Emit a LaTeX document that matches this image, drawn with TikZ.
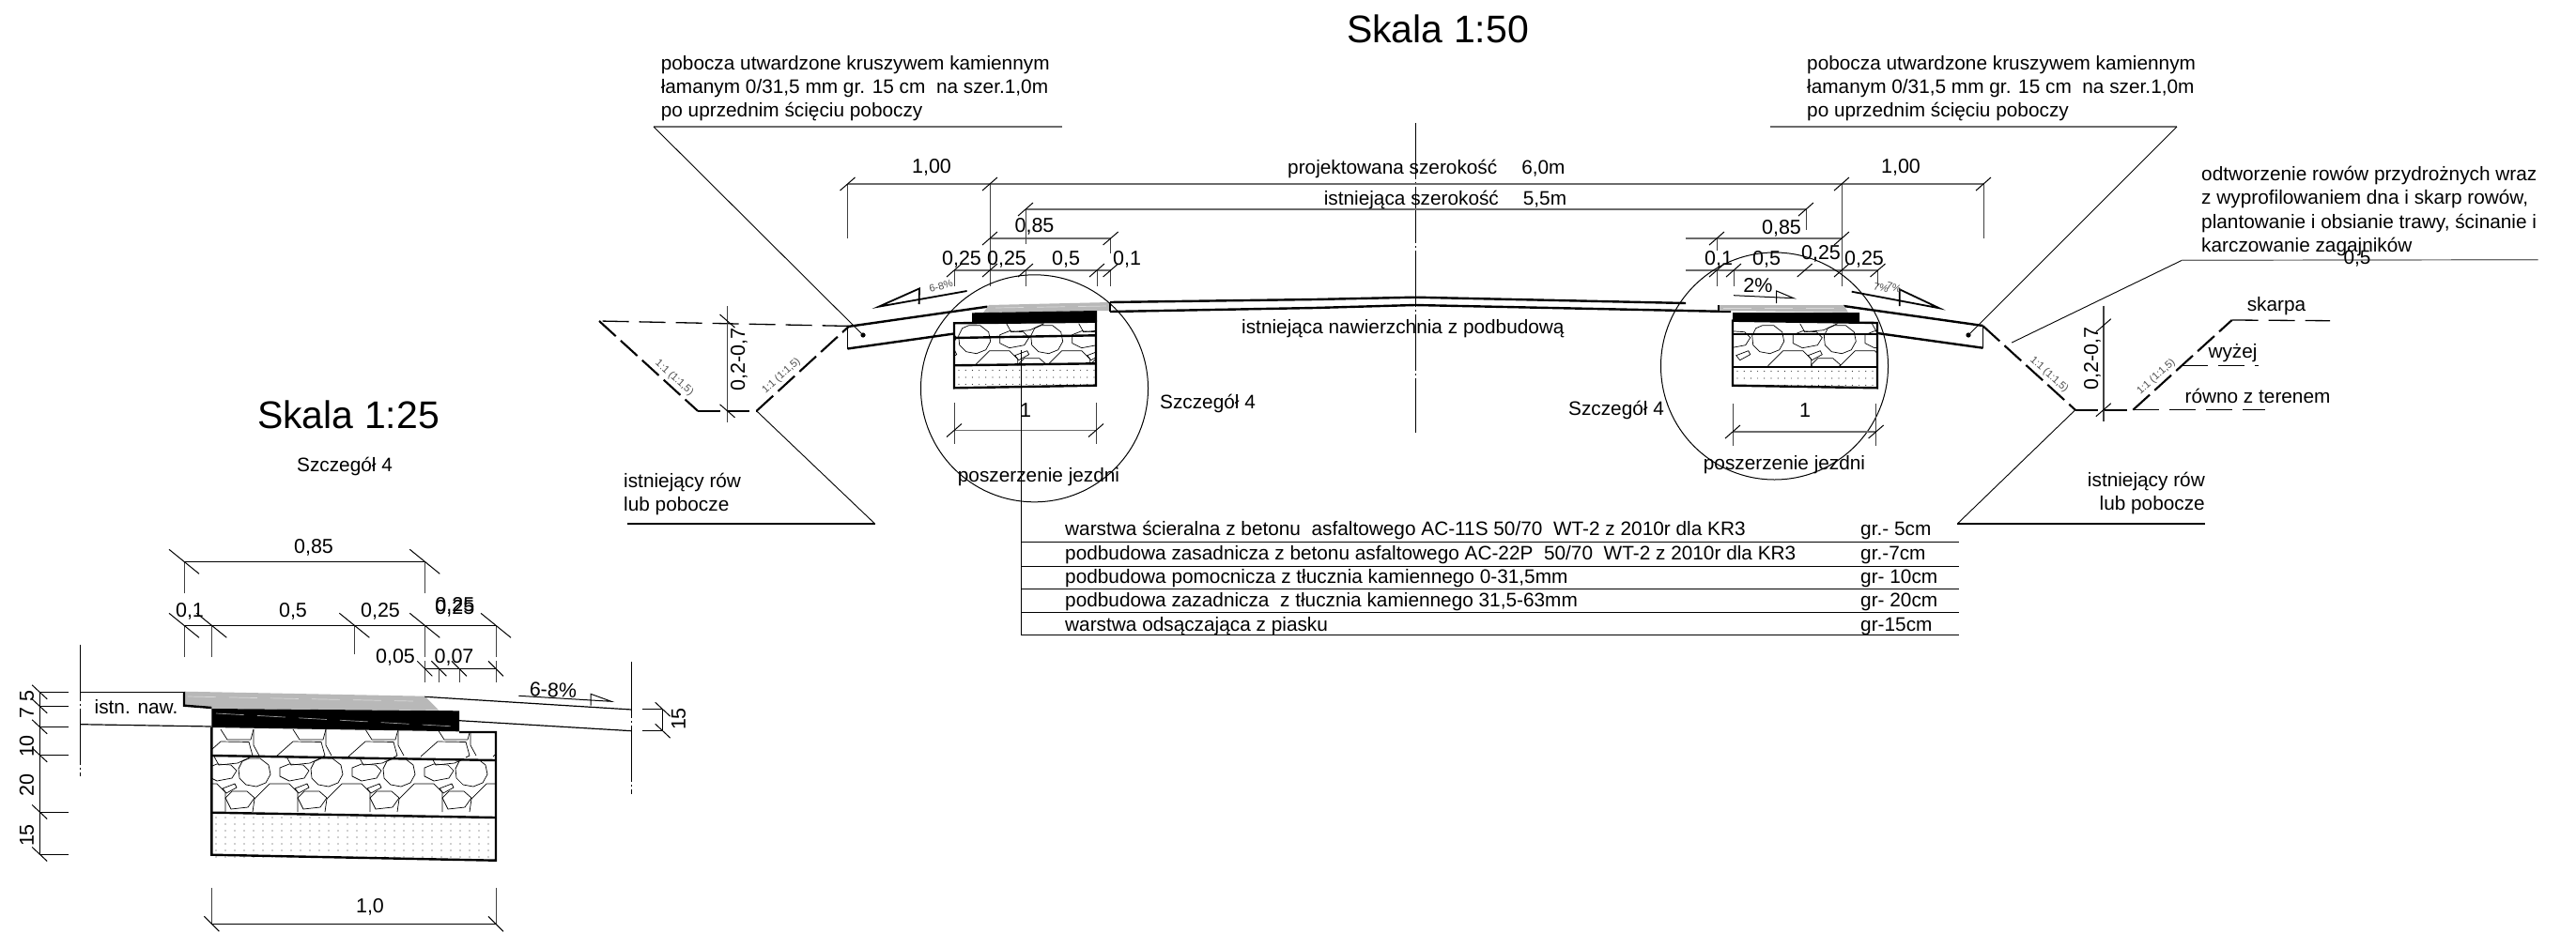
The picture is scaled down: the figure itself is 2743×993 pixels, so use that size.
\documentclass[tikz,border=0pt]{standalone}
\usepackage{fontspec}
\setmainfont{Liberation Sans}
\definecolor{dimgr}{gray}{0.42}
\definecolor{asph}{gray}{0.72}
\tikzset{
 lab/.style={font=\fontsize{20.8}{25.3}\selectfont,inner sep=0pt,anchor=west,align=left},
 cen/.style={font=\fontsize{20.8}{25.3}\selectfont,inner sep=0pt,anchor=center},
 dimt/.style={font=\fontsize{21.5}{26}\selectfont,inner sep=0pt,anchor=center},
 title/.style={font=\fontsize{41}{46}\selectfont,inner sep=0pt,anchor=center},
 tiny/.style={font=\fontsize{11}{13}\selectfont,inner sep=0pt,anchor=center,text=black!70},
 dimln/.style={draw=dimgr,line width=1.7pt},
 ext/.style={draw=black!75,line width=1pt},
 tk/.style={draw=black,line width=1pt},
 thin/.style={draw=black,line width=1pt},
 lead/.style={draw=black,line width=.9pt},
 leadh/.style={draw=dimgr,line width=1.6pt},
 roadl/.style={draw=black,line width=2.4pt},
 boxl/.style={draw=black,line width=2.4pt},
 ditch/.style={draw=black,line width=2.1pt,dash pattern=on 24pt off 7pt},
 ditcht/.style={draw=black,line width=1.3pt,dash pattern=on 28pt off 11pt},
 axis/.style={draw=black,line width=.9pt,dash pattern=on 60pt off 3pt on 2pt off 3pt},
 stone/.style={draw=black,line width=.7pt},
 streak/.style={draw=white!85!black,line width=.7pt,dash pattern=on 30pt off 14pt},
}
\newcommand\mtick[2]{\draw[tk] (#1-8,#2+7) -- (#1+8,#2-7);}
\newcommand\btick[2]{\draw[tk] (#1-8,#2-7) -- (#1+8,#2+7);}
\newcommand\dtick[2]{\draw[tk] (#1-16,#2-13) -- (#1+16,#2+13);}
\newcommand\stick[2]{\draw[tk] (#1-8,#2-8) -- (#1+8,#2+8);}
\newcommand\vtick[2]{\draw[tk] (#1-8,#2-7.5) -- (#1+8,#2+7.5);}
% stone tile A: origin at the octagon centre
\newcommand\tileA[2]{\begin{scope}[shift={(#1,#2)}]
 \draw[stone] (-6,-15)--(6,-15)--(15,-8)--(17,2)--(12,11)--(2,15)--(-9,13)--(-16,6)--(-17,-4)--(-13,-12)--cycle;
 \draw[stone] (-50,-5)--(-40,-9)--(-25,-8)--(-19,-2)--(-24,6)--(-40,9)--(-50,4)--cycle;
 \draw[stone] (0,28)--(16,12)--(37,12)--(46,21)--(46,42);
 \draw[stone] (0,28)--(-2,42);
 \draw[stone] (46,27)--(53,20)--(69,20)--(77,27)--(70,37)--(52,39)--cycle;
 \draw[stone] (-34,17)--(-21,12)--(-19,16)--(-30,22)--cycle;
 \draw[stone] (34,-17)--(39,-8)--(59,-10)--(74,-17);
\end{scope}}
% stone tile B: upper layer of the detail
\newcommand\tileB[2]{\begin{scope}[shift={(#1,#2)}]
 \draw[stone] (-9,29)--(9,13)--(39,13.5)--(43,28)--(39,30);
 \draw[stone] (9,0)--(16,11)--(41,11)--(44,0);
 \draw[stone] (44,0)--(44,17)--(50,28);
\end{scope}}
\begin{document}
\begin{tikzpicture}[x=1pt,y=-1pt]
\useasboundingbox (0,0) rectangle (2743,993);
\fill[white] (0,0) rectangle (2743,993);

%% ---------- titles
\node[title] (t50) at (1531,31) {Skala 1:50};
\node[title] (t25) at (371,442) {Skala 1:25};
\node[cen] (sz0) at (367,497) {Szczegół 4};

%% ---------- centre axis
\draw[axis] (1507,131) -- (1507,461);

%% ---------- left notes
\node[lab] (nl) at (703.6,94) {pobocza utwardzone kruszywem kamiennym\\łamanym 0/31,5 mm gr. 15 cm~ na szer.1,0m\\po uprzednim ścięciu poboczy};
\draw[leadh] (1131,135) -- (696,135);
\draw[lead] (696,135) -- (919,357);
\fill (919,357) circle (2.6);
\node[lab] (nr) at (1924,94) {pobocza utwardzone kruszywem kamiennym\\łamanym 0/31,5 mm gr. 15 cm~ na szer.1,0m\\po uprzednim ścięciu poboczy};
\draw[leadh] (1885,135) -- (2318,135);
\draw[lead] (2318,135) -- (2096,357);
\fill (2096,357) circle (2.6);

%% ---------- dimensions, main section
\draw[dimln] (902.5,196) -- (2112,196);
\draw[dimln] (1092,223) -- (1923,223);
\draw[dimln] (1054,254) -- (1182.6,254);
\draw[dimln] (1016,288) -- (1182.6,288);
\draw[dimln] (1795,254) -- (1961,254);
\draw[dimln] (1795,288) -- (1999.5,288);
\draw[ext] (902.5,196) -- (902.5,254);
\draw[ext] (1054,196) -- (1054,305);
\draw[ext] (1092,223) -- (1092,260) (1092,288) -- (1092,305);
\draw[ext] (1016,288) -- (1016,305);
\draw[ext] (1182.6,254) -- (1182.6,270) (1182.6,288) -- (1182.6,305);
\draw[ext] (1168,288) -- (1168,305);
\draw[ext] (2112,196) -- (2112,254);
\draw[ext] (1961,196) -- (1961,305);
\draw[ext] (1923,223) -- (1923,245);
\draw[ext] (1828,254) -- (1828,267) (1828,288) -- (1828,305);
\draw[ext] (1846,288) -- (1846,305);
\draw[ext] (1999.5,288) -- (1999.5,305);
\foreach \a/\b in {902.5/196,1054/196,2112/196,1961/196,1092/223,1923/223,1054/254,1182.6/254,1828/254,1961/254,1016/288,1054/288,1092/288,1168/288,1182.6/288,1828/288,1846/288,1921.7/288,1961/288,1999.5/288}{\mtick{\a}{\b}}

\node[dimt] (d100l) at (992,178) {1,00};
\node[dimt] (d100r) at (2024,178) {1,00};
\node[dimt] (d85l) at (1101.5,241) {0,85};
\node[dimt] (d25a) at (1024,276) {0,25};
\node[dimt] (d25b) at (1072,276) {0,25};
\node[dimt] (d5a) at (1135,276) {0,5};
\node[dimt] (d1a) at (1200,276) {0,1};
\node[dimt] (d85r) at (1897,243) {0,85};
\node[dimt] (d1b) at (1830,276) {0,1};
\node[dimt] (d5b) at (1881,276) {0,5};
\node[dimt] (d25c) at (1939,270) {0,25};
\node[dimt] (d25d) at (1985,276) {0,25};
\node[lab] (pw) at (1371,180) {projektowana szerokość\hspace{26pt}6,0m};
\node[lab] (iw) at (1409.6,213) {istniejąca szerokość\hspace{26pt}5,5m};
\node[lab] (in) at (1322,350) {istniejąca nawierzchnia z podbudową};

%% ---------- road surface
\draw[roadl] (1182,322) -- (1400,319) -- (1507,316.7) -- (1795,323);
\draw[roadl] (1182,332) -- (1400,328) -- (1507,325) -- (1843,332);
\draw[roadl] (902.5,348) -- (1051.5,326.7);
\draw[roadl] (902.5,371.5) -- (1016,355.5);
\draw[thin] (902.5,348) -- (902.5,371.5);
\draw[roadl] (1963,326) -- (2111.5,347);
\draw[roadl] (1999,355) -- (2111.5,370.7);
\draw[thin] (2111.5,347) -- (2111.5,370.7);

%% left widening
\begin{scope}
 \clip (1016,344.3) -- (1167,342.7) -- (1167,388) -- (1016,390) -- cycle;
 \foreach \q in {1037.7,1114.7,1191.7}{\tileA{\q}{361.7}}
\end{scope}
\foreach \q in {0,...,2}{\foreach \r in {0,...,20}{\fill[black!80] (1021+\r*7.2,394.5+\q*7.5) circle (.6);}}
\fill[asph] (1053,325) -- (1182,322) -- (1182,331) -- (1047,333) -- cycle;
\draw[streak] (1060,328) -- (1180,326);
\fill[black] (1035,333.3) -- (1168,331) -- (1168,342.5) -- (1060,345) -- (1035,344) -- cycle;
\draw[boxl] (1016,344.3) -- (1167,342.7) -- (1167,410.7) -- (1016,413.3) -- cycle;
\draw[boxl] (1016,360) -- (1167,357.3);
\draw[boxl] (1016,389.3) -- (1167,387.3);
\draw[thin,line width=2pt] (1182,322) -- (1182,332);

%% right widening
\begin{scope}
 \clip (1845,341.7) -- (1999,344) -- (1999,390.7) -- (1845,390.7) -- cycle;
 \foreach \q in {1882.7,1959.3,2036}{\tileA{\q}{361.7}}
\end{scope}
\foreach \q in {0,...,2}{\foreach \r in {0,...,20}{\fill[black!80] (1850+\r*7.2,395.5+\q*7.5) circle (.6);}}
\fill[asph] (1830,325) -- (1963,325) -- (1968,332.7) -- (1830,331) -- cycle;
\draw[streak] (1835,328) -- (1958,328);
\fill[black] (1845,333) -- (1980,333) -- (1980,343) -- (1845,342) -- cycle;
\draw[boxl] (1845,341.7) -- (1999,344) -- (1999,413.3) -- (1845,410.7) -- cycle;
\draw[boxl] (1845,356) -- (1999,356);
\draw[boxl] (1845,390.7) -- (1999,390.7);
\draw[thin,line width=2pt] (1830,325) -- (1830,332);

%% slope markers
\draw[thin,line width=1.8pt] (1029.6,310) -- (935.7,326.7) -- (979,307.4) -- (978.6,324);
\node[tiny,rotate=15] (sl68) at (1002,305) {6-8\%};
\draw[thin] (1846,314.7) -- (1910,317.7) -- (1891.7,310) -- (1891.7,323);
\node[dimt] (sl2) at (1872,304) {2\%};
\draw[thin,line width=1.8pt] (1971.7,310.7) -- (2065,328.3) -- (2022.7,308.3) -- (2022.7,326);
\node[tiny,rotate=-15] (sl7a) at (2003,306.7) {7\%};
\node[tiny,rotate=-15] (sl7b) at (2016.7,306) {7\%};

%% widening circles and widths
\draw[thin] (1101.5,413.8) circle (121);
\draw[thin] (1889.5,390) circle (121);
\draw[dimln] (1016,458.5) -- (1167,458.5);
\draw[dimln] (1845,460) -- (1997.6,460);
\draw[ext] (1016,429) -- (1016,473);
\draw[ext] (1167,429) -- (1167,473);
\draw[ext] (1845,430) -- (1845,475);
\draw[ext] (1997.6,430) -- (1997.6,475);
\foreach \a/\b in {1016/458.5,1167/458.5,1845/460,1997.6/460}{\mtick{\a}{\b}}
\node[dimt] (w1l) at (1092,437) {1};
\node[dimt] (w1r) at (1922,437) {1};
\node[cen] (szl) at (1286,430) {Szczegół 4};
\node[cen] (szr) at (1721,437) {Szczegół 4};
\node[cen] (pzl) at (1106,508) {poszerzenie jezdni};
\node[cen] (pzr) at (1900,495) {poszerzenie jezdni};

%% ---------- left ditch
\draw[ditcht] (903.6,347.4) -- (638,342);
\draw[ditch] (638,342) -- (743,437.8);
\draw[ditch] (743,437.8) -- (805.6,437.8);
\draw[ditch] (805.6,437.8) -- (903.6,348);
\draw[ext] (774.5,326) -- (774.5,450);
\btick{774.5}{342}\btick{774.5}{437.8}
\node[dimt,rotate=90] (h1) at (787,383) {0,2-0,7};
\node[tiny,rotate=-42] (s1) at (718,402.6) {1:1 (1:1,5)};
\node[tiny,rotate=42] (s2) at (832,400.7) {1:1 (1:1,5)};
\draw[lead] (805.6,437.8) -- (931.6,558);
\draw[thin,line width=1.3pt] (931.6,558) -- (668,558);
\node[lab] (rl) at (664,526.5) {istniejący rów\\lub pobocze};

%% ---------- right ditch
\draw[ditch] (2111.5,347.3) -- (2209.8,436.7);
\draw[ditch] (2209.8,436.7) -- (2271.3,436.7);
\draw[ditch] (2271.3,436.7) -- (2376.6,341);
\draw[ditcht] (2376.6,341) -- (2481,341.7);
\draw[ditcht] (2323.4,389.3) -- (2404.5,389.3);
\draw[ditcht] (2271.3,436.7) -- (2411.5,436.7);
\draw[ext,line width=1.4pt] (2239.8,325.7) -- (2239.8,449);
\mtick{2239.8}{346.7}\mtick{2239.8}{436.7}
\node[dimt,rotate=90] (h2) at (2228,382) {0,2-0,7};
\node[tiny,rotate=-42] (s3) at (2182,399.3) {1:1 (1:1,5)};
\node[tiny,rotate=42] (s4) at (2296,401.7) {1:1 (1:1,5)};
\draw[lead] (2209.8,436.7) -- (2084.3,558);
\draw[thin,line width=1.3pt] (2084.3,558) -- (2348,558);
\node[lab,align=right,anchor=east] (rr) at (2348,525.5) {istniejący rów\\lub pobocze};
\draw[lead] (2142.2,365) -- (2323.4,277.3);
\draw[leadh,line width=1.2pt] (2323.4,277.3) -- (2702.5,276.7);
\node[lab] (od) at (2344,225) {odtworzenie rowów przydrożnych wraz\\z wyprofilowaniem dna i skarp rowów,\\plantowanie i obsianie trawy, ścinanie i\\karczowanie zagajników};
\node[cen] (d05) at (2510,276) {0,5};
\node[cen] (sk) at (2424,326) {skarpa};
\node[cen] (wy) at (2377.5,376) {wyżej};
\node[cen] (rt) at (2404,422) {równo z terenem};

%% ---------- layer table
\draw[thin] (1087,373) -- (1087,676.7);
\foreach \yy in {577.7,603.3,627.3,652.3,676.7}{\draw[thin,line width=1.2pt] (1087,\yy) -- (2086,\yy);}
\node[lab] (l1) at (1134,565) {warstwa ścieralna z betonu~ asfaltowego AC-11S 50/70~ WT-2 z 2010r dla KR3};
\node[lab] (l2) at (1134,591) {podbudowa zasadnicza z betonu asfaltowego AC-22P~ 50/70~ WT-2 z 2010r dla KR3};
\node[lab] (l3) at (1134,616) {podbudowa pomocnicza z tłucznia kamiennego 0-31,5mm};
\node[lab] (l4) at (1134,641) {podbudowa zazadnicza~ z tłucznia kamiennego 31,5-63mm};
\node[lab] (l5) at (1134,667) {warstwa odsączająca z piasku};
\node[lab] (g1) at (1981,565) {gr.- 5cm};
\node[lab] (g2) at (1981,591) {gr.-7cm};
\node[lab] (g3) at (1981,616) {gr- 10cm};
\node[lab] (g4) at (1981,641) {gr- 20cm};
\node[lab] (g5) at (1981,667) {gr-15cm};

%% ---------- detail 1:25
\draw[axis] (85.4,686.7) -- (85.4,827.3);
\draw[axis] (672.6,705) -- (672.6,846);
\begin{scope}
 \clip (225.4,806) -- (528,811) -- (528,871) -- (225.4,865.7) -- cycle;
 \foreach \q in {194,271,348,425,502,579}{\tileA{\q}{823}}
\end{scope}
\begin{scope}
 \clip (225.4,775) -- (528,780) -- (528,810) -- (225.4,805) -- cycle;
 \foreach \q in {149,226,303,380,457,534}{\tileB{\q}{777}}
\end{scope}
\foreach \q in {0,...,6}{\foreach \r in {0,...,29}{\fill[black!80] (230+\r*10,871+\q*7) circle (.6);}}
\fill[asph] (196,736.7) -- (452.3,741.7) -- (467.4,756.7) -- (225.4,755) -- (196,751.7) -- cycle;
\draw[streak] (200,742) -- (440,747);
\fill[black] (225.4,755) -- (489,757.3) -- (489,779.3) -- (225.4,775) -- cycle;
\draw[streak,draw=white!60!black] (230,760) -- (485,774);
\draw[roadl] (196,737) -- (196,751.7) -- (225.4,754);
\draw[boxl] (225.4,775) -- (225.4,910.7) -- (528,916.7) -- (528,780) -- (489,780);
\draw[boxl] (225.4,805) -- (528,810);
\draw[boxl] (225.4,865.7) -- (528,871);
\draw[thin,line width=1.2pt] (85.4,737.3) -- (196,737.3);
\draw[thin,line width=1.2pt] (85.4,771.7) -- (225.4,774);
\draw[thin,line width=1.2pt] (452.3,742.3) -- (672.6,756);
\draw[thin,line width=1.2pt] (489,767.7) -- (672.6,778.7);
\node[cen] (iwn) at (145,752.7) {istn. naw.};
\draw[thin] (552.3,741.3) -- (651,747.3) -- (629,739.3) -- (629,751.7);
\node[dimt,rotate=-3] (s68) at (589,735) {6-8\%};
% detail dims
\draw[thin,line width=1.2pt] (196,598.3) -- (452.3,598.3);
\draw[thin,line width=1.2pt] (196,666.3) -- (528,666.3);
\draw[thin,line width=1.2pt] (452.3,712.3) -- (528,712.3);
\draw[ext] (196,598.3) -- (196,632) (452.3,598.3) -- (452.3,632);
\draw[ext] (196,666.3) -- (196,700) (225.4,666.3) -- (225.4,700) (377.4,666.3) -- (377.4,697) (452.3,666.3) -- (452.3,700) (528,666.3) -- (528,700);
\draw[ext] (452.3,704) -- (452.3,727.3) (467.4,712.3) -- (467.4,727.3) (489,712.3) -- (489,727.3) (528,704) -- (528,727.3);
\foreach \a/\b in {196/598.3,452.3/598.3,196/666.3,225.4/666.3,377.4/666.3,452.3/666.3,528/666.3}{\dtick{\a}{\b}}
\foreach \a/\b in {452.3/712.3,467.4/712.3,489/712.3,528/712.3}{\stick{\a}{\b}}
\node[dimt] (e85) at (334,583) {0,85};
\node[dimt] (e1) at (202,651.5) {0,1};
\node[dimt] (e5) at (312,651.5) {0,5};
\node[dimt] (e25) at (405,651.5) {0,25};
\node[dimt] (e25a) at (484.4,645) {0,25};
\node[dimt] (e25b) at (484.4,648) {0,25};
\node[dimt] (e05) at (421,700) {0,05};
\node[dimt] (e07) at (483.5,700) {0,07};
% left ladder
\draw[thin] (42.2,737.3) -- (42.2,910);
\foreach \yy in {737.3,752.3,774.3,804.3,865,910}{\draw[thin] (42.2,\yy) -- (72.5,\yy); \vtick{42.2}{\yy}}
\node[dimt,rotate=90] (v5) at (28.5,741.7) {5};
\node[dimt,rotate=90] (v7) at (28.5,759.3) {7};
\node[dimt,rotate=90] (v10) at (28.5,795) {10};
\node[dimt,rotate=90] (v20) at (28.5,836.7) {20};
\node[dimt,rotate=90] (v15) at (28.5,890) {15};
% right ladder
\draw[thin] (705.7,755.7) -- (705.7,778.7);
\draw[thin] (684,755.7) -- (705.7,755.7) (684,778.7) -- (705.7,778.7);
\vtick{705.7}{755.7}\vtick{705.7}{778.7}
\node[dimt,rotate=90] (v15r) at (722.5,766) {15};
% bottom
\draw[thin,line width=1.2pt] (225.4,984.3) -- (528,984.3);
\draw[ext] (225.4,945.7) -- (225.4,984.3) (528,945.7) -- (528,984.3);
\stick{225.4}{984.3}\stick{528}{984.3}
\node[dimt] (e10) at (394,966.7) {1,0};
\end{tikzpicture}
\end{document}
